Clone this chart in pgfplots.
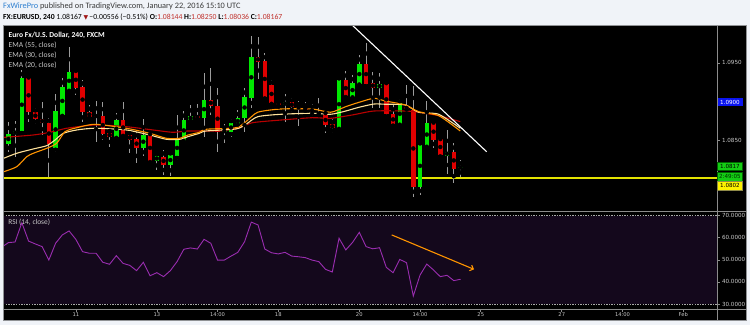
\documentclass[border=0pt]{standalone}
\usepackage{fontspec}
\setmainfont{Carlito}
\newfontfamily\dejavu{DejaVu Sans}
\usepackage{pgfplots}
\usepackage{pgfplotstable}
\pgfplotsset{compat=1.18}
\usetikzlibrary{arrows.meta}

\definecolor{hdrbg}{HTML}{F0F3F8}
\definecolor{fxblue}{HTML}{2E7FD0}
\definecolor{hdrtext}{HTML}{3A3A3A}
\definecolor{pricered}{HTML}{C0302B}
\definecolor{tri}{HTML}{A01515}
\definecolor{candlegreen}{HTML}{00E800}
\definecolor{candlered}{HTML}{E00000}
\definecolor{wick}{HTML}{9C9C9C}
\definecolor{emared}{HTML}{B80000}
\definecolor{emaorange}{HTML}{FF9400}
\definecolor{emacream}{HTML}{FFE29A}
\definecolor{levelyellow}{HTML}{E2E200}
\definecolor{rsibg}{HTML}{14081C}
\definecolor{rsiline}{HTML}{9A2DB0}
\definecolor{axisgray}{HTML}{8C8C8C}
\definecolor{labelgray}{HTML}{C8C8C8}
\definecolor{boxgreen}{HTML}{14CC14}
\definecolor{boxblue}{HTML}{0A14F0}

% candles: index, open, high, low, close
\pgfplotstableread{
i O H L C
0 1.08456 1.08743 1.08357 1.08584
1 1.08580 1.08755 1.08292 1.08623
2 1.08623 1.09408 1.08571 1.09301
7 1.08408 1.09095 1.08357 1.08880
8 1.08829 1.09301 1.08807 1.09193
9 1.09151 1.09708 1.09129 1.09386
16 1.08542 1.08851 1.08529 1.08764
20 1.08400 1.08777 1.08305 1.08571
22 1.08241 1.08357 1.08121 1.08297
24 1.08185 1.08357 1.08048 1.08314
25 1.08305 1.08829 1.08250 1.08507
26 1.08498 1.08880 1.08494 1.08764
27 1.08764 1.08958 1.08752 1.08820
29 1.08786 1.09366 1.08542 1.09022
32 1.08614 1.08709 1.08472 1.08627
33 1.08614 1.08777 1.08550 1.08722
34 1.08713 1.08893 1.08700 1.08786
35 1.08786 1.09172 1.08614 1.09064
36 1.09051 1.09846 1.08915 1.09579
41 1.08958 1.09095 1.08743 1.08992
49 1.08658 1.09322 1.08645 1.09279
51 1.09064 1.09344 1.09051 1.09237
52 1.09228 1.09601 1.09215 1.09485
55 1.09180 1.09366 1.08923 1.09224
58 1.08709 1.09035 1.08700 1.08979
61 1.07906 1.08485 1.07799 1.08443
62 1.08434 1.09009 1.08408 1.08722
65 1.08305 1.08636 1.08066 1.08357
67 1.08144 1.08250 1.08036 1.08167
}\greencandles

\pgfplotstableread{
i O H L C
3 1.09301 1.09322 1.08743 1.08864
4 1.08864 1.08915 1.08709 1.08777
5 1.08777 1.09000 1.08571 1.08726
6 1.08726 1.08786 1.08035 1.08456
10 1.09386 1.09408 1.09086 1.09180
11 1.09193 1.09279 1.08735 1.08864
12 1.08864 1.08958 1.08790 1.08807
13 1.08820 1.09009 1.08485 1.08812
14 1.08820 1.08992 1.08507 1.08580
15 1.08593 1.08658 1.08413 1.08550
17 1.08764 1.09000 1.08550 1.08571
18 1.08571 1.08614 1.08336 1.08507
19 1.08520 1.08614 1.08207 1.08400
21 1.08571 1.08593 1.08207 1.08241
23 1.08292 1.08378 1.08057 1.08185
28 1.08820 1.08967 1.08764 1.08786
30 1.09022 1.09438 1.08829 1.08949
31 1.08949 1.09172 1.08357 1.08614
37 1.09579 1.09837 1.09288 1.09515
38 1.09524 1.09623 1.09022 1.09064
39 1.09215 1.09279 1.08958 1.08987
40 1.08987 1.09022 1.08915 1.08958
42 1.08992 1.09044 1.08864 1.08928
43 1.08932 1.09009 1.08691 1.08919
44 1.08919 1.08992 1.08864 1.08906
45 1.08906 1.08967 1.08820 1.08864
46 1.08855 1.09044 1.08820 1.08842
47 1.08829 1.08880 1.08593 1.08700
48 1.08709 1.08773 1.08593 1.08658
50 1.09279 1.09395 1.09051 1.09073
53 1.09485 1.09759 1.09172 1.09228
54 1.09237 1.09386 1.08923 1.09180
56 1.09224 1.09257 1.08786 1.08838
57 1.08838 1.08967 1.08678 1.08709
59 1.08932 1.09215 1.08893 1.08906
60 1.08893 1.09206 1.07777 1.07906
63 1.08722 1.08743 1.08408 1.08507
64 1.08520 1.08520 1.08279 1.08314
66 1.08357 1.08465 1.07950 1.08134
}\redcandles

\pgfplotstableread{
i rsi
-1 55.7
0 57.8
1 58.1
2 66.8
3 58.5
4 57.2
5 56.0
6 49.9
7 57.5
8 61.3
9 63.1
10 59.3
11 53.7
12 53.0
13 53.0
14 48.9
15 48.0
16 51.9
17 48.4
18 47.5
19 45.1
20 48.9
21 42.8
22 44.2
23 42.4
24 45.1
25 49.2
26 54.8
27 55.4
28 54.9
29 59.3
30 57.5
31 49.9
32 49.9
33 51.7
34 53.4
35 58.2
36 67.1
37 65.8
38 54.9
39 53.2
40 52.7
41 53.4
42 51.7
43 51.4
44 51.0
45 49.9
46 49.2
47 45.7
48 44.5
49 59.8
50 54.5
51 57.9
52 62.5
53 56.0
54 55.0
55 55.5
56 46.6
57 44.2
58 50.2
59 48.7
60 33.6
61 43.1
62 48.1
63 45.4
64 42.4
65 43.0
66 40.6
67 41.2
}\rsidata

\pgfplotsset{
  wicks/.style={forget plot, only marks, mark=none,
    error bars/.cd, y dir=both, y explicit, error mark=none,
    error bar style={line width=1pt, draw=wick, solid}},
  bodies/.style={forget plot, only marks, mark=none,
    error bars/.cd, y dir=both, y explicit, error mark=none,
    error bar style={line width=4.5pt, draw=#1, solid}},
}

\begin{document}
\begin{tikzpicture}
\useasboundingbox (0pt,0pt) rectangle (750pt,325pt);
\fill[hdrbg] (0pt,0pt) rectangle (750pt,325pt);
\fill[black] (3pt,5pt) rectangle (746pt,300pt);

% header
\node[anchor=west, inner sep=0pt, text=hdrtext, font=\fontsize{8.3}{9}\selectfont] at (3pt,318.6pt)
  {{\color{fxblue}FxWirePro} published on TradingView.com, January 22, 2016 15:10 UTC};
\node[anchor=west, inner sep=0pt, text=black, font=\fontsize{7.7}{9}\selectfont] at (3pt,307.6pt)
  {\textbf{FX:EURUSD, 240}\ 1.08167 {\color{tri}\dejavu\fontsize{6}{7}\selectfont ▼}\,−0.00556 (−0.51\%)\ \textbf{O:}{\color{pricered}1.08144}\ \textbf{H:}{\color{pricered}1.08250}\ \textbf{L:}{\color{pricered}1.08036}\ \textbf{C:}{\color{pricered}1.08167}};

% main price panel
\begin{axis}[
  at={(3pt,113.3pt)}, anchor=south west, scale only axis,
  width=714pt, height=186.7pt,
  xmin=-0.79, xmax=105, ymin=1.07584, ymax=1.09987,
  axis line style={draw=none},
  xtick=\empty,
  ytick={1.085,1.095}, yticklabels={1.0850,1.0950},
  ytick pos=right, yticklabel pos=right,
  tick align=outside, major tick length=2.5pt,
  tick style={draw=axisgray, line width=0.6pt},
  yticklabel style={font=\dejavu\fontsize{5.6}{6}\selectfont, text=labelgray, anchor=west, xshift=-1pt},
  clip=true,
]
\addplot[levelyellow, line width=1.4pt, forget plot] coordinates {(-0.79,1.0802) (105,1.0802)};
% wicks above and below the bodies
\addplot[wicks] table[x=i, y expr={(\thisrow{H}+\thisrow{C})/2}, y error expr={(\thisrow{H}-\thisrow{C})/2}] {\greencandles};
\addplot[wicks] table[x=i, y expr={(\thisrow{L}+\thisrow{O})/2}, y error expr={(\thisrow{O}-\thisrow{L})/2}] {\greencandles};
\addplot[wicks] table[x=i, y expr={(\thisrow{H}+\thisrow{O})/2}, y error expr={(\thisrow{H}-\thisrow{O})/2}] {\redcandles};
\addplot[wicks] table[x=i, y expr={(\thisrow{L}+\thisrow{C})/2}, y error expr={(\thisrow{C}-\thisrow{L})/2}] {\redcandles};
\addplot[bodies=candlegreen] table[x=i, y expr={(\thisrow{O}+\thisrow{C})/2}, y error expr={max(abs(\thisrow{C}-\thisrow{O})/2,0.00007)}] {\greencandles};
\addplot[bodies=candlered] table[x=i, y expr={(\thisrow{O}+\thisrow{C})/2}, y error expr={max(abs(\thisrow{C}-\thisrow{O})/2,0.00007)}] {\redcandles};
% EMA 55
\addplot[emared, line width=1.1pt, smooth, tension=0.4] coordinates {
(-0.79,1.08540) (3.66,1.08571) (6.18,1.08606) (8.65,1.08658) (12.84,1.08700) (17.48,1.08678)
(21.44,1.08636) (24.4,1.08606) (26.62,1.08623) (31.26,1.08623) (34.22,1.08665) (36.2,1.08730)
(40.4,1.08764) (45.04,1.08794) (47.76,1.08786) (50.96,1.08829) (54.18,1.08880) (58.8,1.08880)
(60.8,1.08864) (63.76,1.08820) (66.96,1.08743)};
% EMA 30
\addplot[emacream, line width=1.1pt, smooth, tension=0.4] coordinates {
(-0.79,1.08268) (1.24,1.08336) (3.66,1.08391) (5.69,1.08434) (6.92,1.08507) (8.15,1.08593)
(10.13,1.08636) (12.84,1.08658) (17.48,1.08636) (20.95,1.08571) (23.41,1.08516) (25.39,1.08516)
(26.62,1.08550) (28.3,1.08593) (29.29,1.08623) (33.73,1.08649) (35.21,1.08709) (36.95,1.08807)
(40.4,1.08838) (45.04,1.08851) (47.76,1.08838) (49.99,1.08880) (51.96,1.08928) (54.18,1.08970)
(55.85,1.08967) (58.81,1.08958) (60.8,1.08864) (63.76,1.08838) (66.96,1.08658)};
% EMA 20
\addplot[emaorange, line width=1.1pt, smooth, tension=0.4] coordinates {
(-0.79,1.08095) (1.24,1.08163) (2.73,1.08292) (3.7,1.08336) (5.69,1.08400) (7.17,1.08465)
(8.4,1.08614) (10.13,1.08665) (12.84,1.08709) (17.48,1.08658) (20.95,1.08593) (23.41,1.08529)
(25.39,1.08529) (26.62,1.08571) (28.3,1.08606) (29.29,1.08645) (33.73,1.08665) (35.21,1.08743)
(36.95,1.08864) (40.4,1.08906) (45.04,1.08906) (47.76,1.08864) (49.99,1.08936) (51.96,1.08992)
(54.18,1.09044) (55.85,1.09009) (58.81,1.08958) (60.8,1.08871) (63.76,1.08820) (66.96,1.08623)};
% trend line
\addplot[white, line width=1.1pt] coordinates {(50.75,1.10002) (70.87,1.08356)};
\end{axis}

% RSI panel
\begin{axis}[
  at={(3pt,16pt)}, anchor=south west, scale only axis,
  width=714pt, height=97.3pt,
  xmin=-0.79, xmax=105, ymin=27.74, ymax=71.81,
  axis line style={draw=none},
  ytick={30,40,50,60,70}, yticklabels={30.0000,40.0000,50.0000,60.0000,70.0000},
  ytick pos=right, yticklabel pos=right,
  xtick={10,22,31,40,52,61,70,82,91,100},
  xticklabels={11,13,14:00,18,20,14:00,25,27,14:00,Feb},
  xtick pos=bottom, xticklabel pos=lower,
  tick align=outside, major tick length=2.5pt,
  tick style={draw=axisgray, line width=0.6pt},
  yticklabel style={font=\dejavu\fontsize{5.6}{6}\selectfont, text=labelgray, anchor=west, xshift=-1pt},
  xticklabel style={font=\dejavu\fontsize{5.2}{6}\selectfont, text=labelgray, anchor=center, yshift=-3.2pt},
  clip=true,
]
\fill[rsibg] (axis cs:-0.79,30) rectangle (axis cs:105,70);
\draw[labelgray!85!black, line width=0.7pt, dash pattern=on 1.3pt off 1.3pt] (axis cs:-0.79,70) -- (axis cs:105,70);
\draw[labelgray!85!black, line width=0.7pt, dash pattern=on 1.3pt off 1.3pt] (axis cs:-0.79,30) -- (axis cs:105,30);
\addplot[rsiline, line width=0.9pt] table[x=i, y=rsi] {\rsidata};
\addplot[emaorange, line width=1.1pt, -{Straight Barb[length=3pt,width=6pt]}] coordinates {(56.8,61.3) (69.0,45.7)};
\end{axis}

% frame and separators
\draw[axisgray, line width=0.8pt] (3pt,113.3pt) -- (746pt,113.3pt);
\draw[axisgray, line width=0.8pt] (3pt,16pt) -- (746pt,16pt);
\draw[axisgray, line width=0.8pt] (717pt,5pt) -- (717pt,300pt);
\draw[black!40!hdrbg, line width=0.8pt] (3pt,5pt) rectangle (746pt,300pt);

% legends
\node[anchor=west, inner sep=0pt, text=white, font=\bfseries\fontsize{7.6}{8}\selectfont] at (8.5pt,290pt) {Euro Fx/U.S. Dollar, 240, FXCM};
\node[anchor=west, inner sep=0pt, text=labelgray, font=\fontsize{7.6}{8}\selectfont] at (8.5pt,280pt) {EMA (55, close)};
\node[anchor=west, inner sep=0pt, text=labelgray, font=\fontsize{7.6}{8}\selectfont] at (8.5pt,270pt) {EMA (30, close)};
\node[anchor=west, inner sep=0pt, text=labelgray, font=\fontsize{7.6}{8}\selectfont] at (8.5pt,260pt) {EMA (20, close)};
\node[anchor=west, inner sep=0pt, text=labelgray, font=\fontsize{7.4}{8}\selectfont] at (8.2pt,102.7pt) {RSI (14, close)};

% price boxes
\draw[axisgray, line width=0.6pt] (717pt,222.8pt) -- (719.5pt,222.8pt);
\node[anchor=west, inner sep=0pt, minimum width=25pt, minimum height=7.8pt, fill=boxblue, text=white, font=\dejavu\fontsize{5.6}{6}\selectfont] at (717.3pt,222.8pt) {1.0900};
\node[anchor=west, inner sep=0pt, minimum width=25pt, minimum height=8.4pt, fill=boxgreen, draw=green!40!black, line width=0.4pt, text=black, font=\dejavu\fontsize{5.6}{6}\selectfont] at (717.3pt,159pt) {1.0817};
\node[anchor=west, inner sep=0pt, minimum width=25pt, minimum height=8.8pt, fill=boxgreen, draw=green!40!black, line width=0.4pt, text=green!20!black, font=\dejavu\fontsize{5.6}{6}\selectfont] at (717.3pt,148.7pt) {2:49:05};
\node[anchor=west, inner sep=0pt, minimum width=25pt, minimum height=8.4pt, fill=yellow, draw=yellow!50!black, line width=0.4pt, text=black, font=\dejavu\fontsize{5.6}{6}\selectfont] at (717.3pt,139.2pt) {1.0802};
\end{tikzpicture}
\end{document}
